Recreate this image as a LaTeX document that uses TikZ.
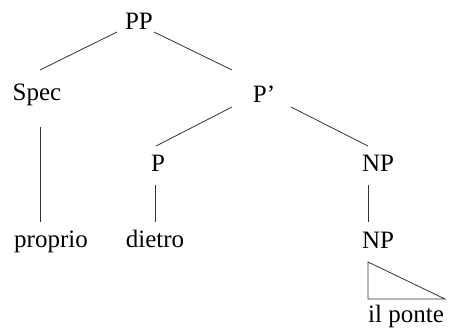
\documentclass[tikz,border=0pt]{standalone}
\usepackage{fontspec}
\setmainfont{Liberation Serif}
\begin{document}
\begin{tikzpicture}[x=1pt,y=-1pt,
  cat/.style={anchor=base,inner sep=0pt,font=\fontsize{25}{30}\selectfont},
  branch/.style={draw=black!80,line width=0.8pt}]
\useasboundingbox (0,0) rectangle (450,327);

% category labels and words
\node[cat] (PP)     at (139,29)  {PP};
\node[cat] (Spec)   at (37,100)  {Spec};
\node[cat] (Pbar)   at (264,102) {P’};
\node[cat] (P)      at (158,171) {P};
\node[cat] (NP)     at (378,171) {NP};
\node[cat] (proprio) at (51,247) {proprio};
\node[cat] (dietro) at (155,247) {dietro};
\node[cat] (NPlow)  at (378,248) {NP};
\node[cat,anchor=base west] (ponte) at (368,322) {il ponte};

% branch end points
\coordinate (PP-l)    at (117,32);
\coordinate (Spec-t)  at (40,70);
\coordinate (PP-r)    at (154,32);
\coordinate (Pbar-t)  at (232,70);
\coordinate (Pbar-l)  at (232,107);
\coordinate (P-t)     at (156,146);
\coordinate (Pbar-r)  at (291,107);
\coordinate (NP-t)    at (368,146);
\coordinate (Spec-b)  at (40,127);
\coordinate (proprio-t) at (40,222);
\coordinate (P-b)     at (155,185);
\coordinate (dietro-t) at (155,222);
\coordinate (NP-b)    at (368,185);
\coordinate (NPlow-t) at (368,222);
\coordinate (tri-a)   at (368,262);
\coordinate (tri-b)   at (368,299);
\coordinate (tri-c)   at (445,299);

% branches
\draw[branch] (PP-l) -- (Spec-t);
\draw[branch] (PP-r) -- (Pbar-t);
\draw[branch] (Pbar-l) -- (P-t);
\draw[branch] (Pbar-r) -- (NP-t);
\draw[branch] (Spec-b) -- (proprio-t);
\draw[branch] (P-b) -- (dietro-t);
\draw[branch] (NP-b) -- (NPlow-t);

% roof over the unanalysed phrase
\draw[branch,line join=miter] (tri-a) -- (tri-b) -- (tri-c) -- cycle;
\end{tikzpicture}
\end{document}
